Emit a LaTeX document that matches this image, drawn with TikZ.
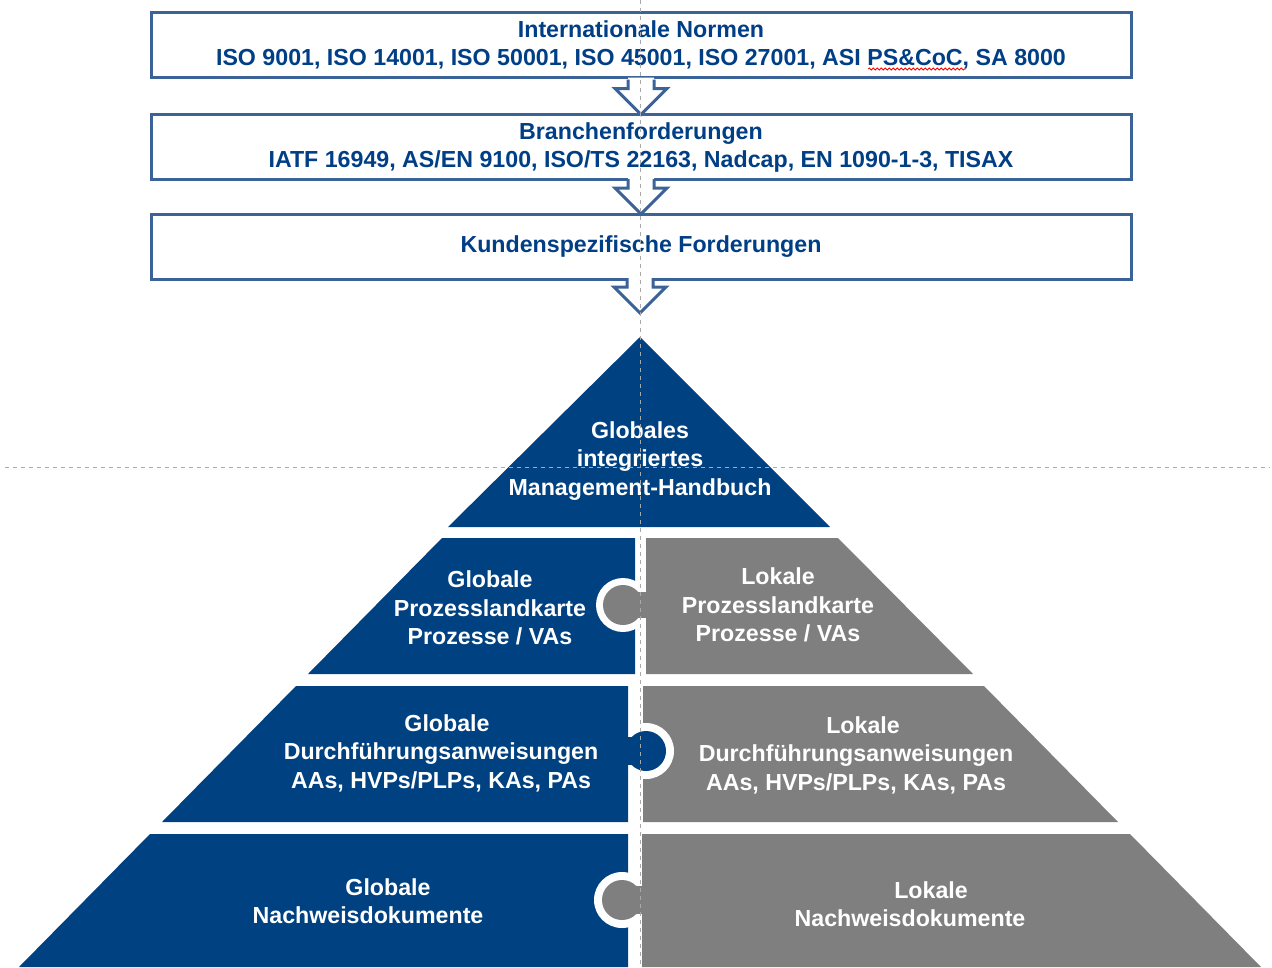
\documentclass[tikz,border=0pt]{standalone}
\usepackage{fontspec}
\setmainfont{Liberation Sans}
\usepackage{tikz}
\usetikzlibrary{positioning}
\usetikzlibrary{decorations.pathmorphing}

\definecolor{boxline}{RGB}{59,99,151}
\definecolor{textblue}{RGB}{0,62,134}
\definecolor{pyrblue}{RGB}{0,65,129}
\definecolor{pyrgray}{RGB}{127,127,127}
\definecolor{guide}{RGB}{170,170,170}

\begin{document}
\begin{tikzpicture}[x=1pt, y=-1pt,
    normbox/.style={draw=boxline, line width=3pt, minimum width=980pt, minimum height=65pt,
        inner sep=0pt, outer sep=0pt, align=center, text=textblue,
        font=\bfseries\fontsize{23.2}{28}\selectfont},
    pyrtext/.style={align=center, text=white, inner sep=0pt,
        font=\bfseries\fontsize{23.2}{28.5}\selectfont},
    guideline/.style={guide, line width=1pt, dash pattern=on 4pt off 4pt},
    blockarrow/.pic={
        \fill[white] (-13,-37) -- (-13,-26) -- (-26,-26) -- (0,0) -- (26,-26) -- (13,-26) -- (13,-37) -- cycle;
        \draw[boxline, line width=3pt] (-13,-35) -- (-13,-26) -- (-26,-26) -- (0,0) -- (26,-26) -- (13,-26) -- (13,-35);
    }]
    \useasboundingbox (0,0) rectangle (1272,967);

    % requirement boxes
    \node[normbox] (intl) at (641,45) {Internationale Normen\\ISO 9001, ISO 14001, ISO 50001, ISO 45001, ISO 27001, ASI PS\&CoC, SA 8000};
    \node[normbox] (branche) at (641,147) {Branchenforderungen\\IATF 16949, AS/EN 9100, ISO/TS 22163, Nadcap, EN 1090-1-3, TISAX};
    \node[normbox] (kunden) at (641,246.5) {Kundenspezifische Forderungen};
    \coordinate (hbtip) at (640,313);

    \draw[red, line width=0.8pt, decorate, decoration={snake, amplitude=1pt, segment length=4pt}] (868,69) -- (966,69);

    \pic at (branche.north) {blockarrow};
    \pic at (kunden.north) {blockarrow};
    \pic at (hbtip) {blockarrow};

    % pyramid
    \fill[pyrblue] (640,337) -- (448,527) -- (830,527) -- cycle;

    \fill[pyrblue] (442,538) -- (308,674) -- (635,674) -- (635,538) -- cycle;
    \fill[white] (623,605) circle (27pt);
    \fill[pyrgray] (646,538) -- (646,674) -- (973,674) -- (838,538) -- cycle;
    \fill[pyrgray] (623,605) circle (20pt);
    \fill[pyrgray] (623,592) rectangle (647,618);

    \fill[pyrgray] (643,686) -- (643,822) -- (1118,822) -- (984,686) -- cycle;
    \fill[white] (646,751) circle (28pt);
    \fill[pyrblue] (296,686) -- (162,822) -- (628,822) -- (628,686) -- cycle;
    \fill[pyrblue] (646,751) circle (20pt);
    \fill[pyrblue] (627,737) rectangle (646,765);

    \fill[pyrblue] (150,834) -- (19,967) -- (628,967) -- (628,834) -- cycle;
    \fill[white] (622,900) circle (28pt);
    \fill[pyrgray] (642,834) -- (642,967) -- (1261,967) -- (1130,834) -- cycle;
    \fill[pyrgray] (622,900) circle (20pt);
    \fill[pyrgray] (622,886) rectangle (643,914);

    \node[pyrtext] (handbuch) at (640,461) {Globales\\integriertes\\Management-Handbuch};
    \node[pyrtext] (glPL) at (490,608) {Globale\\Prozesslandkarte\\Prozesse / VAs};
    \node[pyrtext] (loPL) at (778,605) {Lokale\\Prozesslandkarte\\Prozesse / VAs};
    \node[pyrtext] (glDA) at (441,753) {\hspace*{12pt}Globale\\Durchführungsanweisungen\\AAs, HVPs/PLPs, KAs, PAs};
    \node[pyrtext] (loDA) at (856,755) {\hspace*{14pt}Lokale\\Durchführungsanweisungen\\AAs, HVPs/PLPs, KAs, PAs};
    \node[pyrtext] (glND) at (368,901) {\hspace*{40pt}Globale\\Nachweisdokumente};
    \node[pyrtext] (loND) at (910,904) {\hspace*{42pt}Lokale\\Nachweisdokumente};

    % guide lines
    \draw[guideline] (640,0) -- (640,967);
    \draw[guideline] (5,467) -- (1270,467);
\end{tikzpicture}
\end{document}
